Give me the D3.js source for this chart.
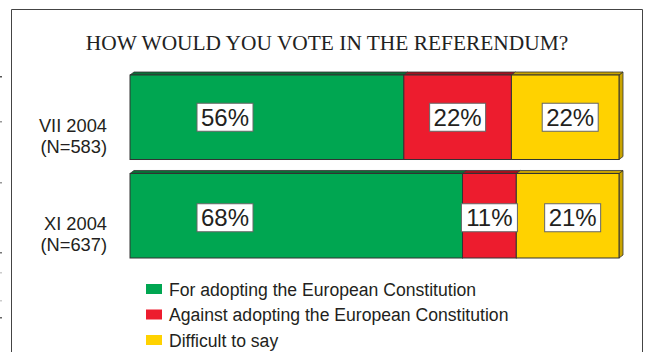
<!DOCTYPE html>
<html>
<head>
<meta charset="utf-8">
<script src="https://cdn.jsdelivr.net/npm/d3@7"></script>
<style>
  html, body { margin: 0; padding: 0; background: #fff; }
  svg { display: block; }
</style>
</head>
<body>
<svg id="chart" width="649" height="352"></svg>
<script>
// Survey waves (rows of the stacked bar)
const waves = ["VII 2004", "XI 2004"];
const sampleSizes = ["(N=583)", "(N=637)"];

// Answer shares, percent
const answers = [
  "For adopting the European Constitution",
  "Against adopting the European Constitution",
  "Difficult to say"
];
const forShare = [56, 68];
const againstShare = [22, 11];
const difficultShare = [22, 21];

const title = "HOW WOULD YOU VOTE IN THE REFERENDUM?";

const faceColors = ["#00a651", "#ed1c2e", "#ffd200"];
const topColors = ["#0b6e37", "#a3121f", "#c9a400"];

const svg = d3.select("#chart");

// small page marks along the left edge
[[76, "#555"], [121, "#999"], [182, "#999"], [252, "#777"], [272, "#ccc"], [300, "#ccc"], [317, "#666"]]
  .forEach(([my, c]) => {
    svg.append("rect").attr("x", 0).attr("y", my).attr("width", 2).attr("height", 1.5).attr("fill", c);
  });

// outer frame (open at the bottom)
svg.append("path")
  .attr("d", "M11.5,352 L11.5,9.5 L642.5,9.5 L642.5,352")
  .attr("fill", "none")
  .attr("stroke", "#444")
  .attr("stroke-width", 1);

// title
svg.append("text")
  .attr("x", 327)
  .attr("y", 50)
  .attr("text-anchor", "middle")
  .attr("font-family", "'Liberation Serif', 'Times New Roman', serif")
  .attr("font-size", 21.4)
  .attr("fill", "#222")
  .text(title);

const x = d3.scaleLinear().domain([0, 100]).range([130, 619]);
const y = d3.scaleBand().domain(waves).range([75, 258]).paddingInner(0.142);

const series = [forShare, againstShare, difficultShare];
const rows = waves.map((w, r) => {
  let acc = 0;
  return series.map((s, i) => {
    const seg = { wave: w, idx: i, value: s[r], x0: acc, x1: acc + s[r] };
    acc += s[r];
    return seg;
  });
});

const dx = 4, dy = -3;

rows.forEach((segs, r) => {
  const g = svg.append("g");
  const y0 = y(waves[r]), h = y.bandwidth();

  // right side face of the last segment
  const last = segs[segs.length - 1];
  const xr = x(last.x1);
  g.append("path")
    .attr("d", `M${xr},${y0} L${xr + dx},${y0 + dy} L${xr + dx},${y0 + h + dy} L${xr},${y0 + h} Z`)
    .attr("fill", topColors[last.idx])
    .attr("stroke", "#333")
    .attr("stroke-width", 0.8)
    .attr("stroke-linejoin", "round");

  segs.forEach(s => {
    const a = x(s.x0), b = x(s.x1);
    // top face
    g.append("path")
      .attr("d", `M${a},${y0} L${a + dx},${y0 + dy} L${b + dx},${y0 + dy} L${b},${y0} Z`)
      .attr("fill", topColors[s.idx])
      .attr("stroke", "#333")
      .attr("stroke-width", 0.8)
      .attr("stroke-linejoin", "round");
    // front face
    g.append("rect")
      .attr("x", a)
      .attr("y", y0)
      .attr("width", b - a)
      .attr("height", h)
      .attr("fill", faceColors[s.idx])
      .attr("stroke", "#333")
      .attr("stroke-width", 1);
  });

  // value labels in white boxes
  segs.forEach(s => {
    const a = x(s.x0), b = x(s.x1);
    const cx = s.idx === 0 ? a + 95 : (a + b) / 2 + (s.idx === 2 ? 5 : 0);
    const cy = y0 + h / 2 + (r === 0 ? 0 : 2);
    const bw = 56, bh = 28;
    g.append("rect")
      .attr("x", cx - bw / 2)
      .attr("y", cy - bh / 2)
      .attr("width", bw)
      .attr("height", bh)
      .attr("fill", "#fff")
      .attr("stroke", "#666")
      .attr("stroke-width", 1);
    g.append("text")
      .attr("x", cx)
      .attr("y", cy + 8.5)
      .attr("text-anchor", "middle")
      .attr("font-family", "'Liberation Sans', Arial, sans-serif")
      .attr("font-size", 24)
      .attr("fill", "#231f20")
      .text(s.value + "%");
  });

  // row labels
  const lab = svg.append("text")
    .attr("text-anchor", "end")
    .attr("font-family", "'Liberation Sans', Arial, sans-serif")
    .attr("font-size", 18.3)
    .attr("fill", "#231f20");
  lab.append("tspan").attr("x", 107).attr("y", y0 + 57).text(waves[r]);
  lab.append("tspan").attr("x", 107).attr("y", y0 + 78).text(sampleSizes[r]);
});

// legend
const legend = svg.append("g");
answers.forEach((t, i) => {
  const ly = 284 + i * 25.5;
  legend.append("rect")
    .attr("x", 146)
    .attr("y", ly)
    .attr("width", 16)
    .attr("height", 10)
    .attr("fill", faceColors[i]);
  legend.append("text")
    .attr("x", 169)
    .attr("y", ly + 11.5)
    .attr("font-family", "'Liberation Sans', Arial, sans-serif")
    .attr("font-size", 17.6)
    .attr("fill", "#231f20")
    .text(t);
});
</script>
</body>
</html>
